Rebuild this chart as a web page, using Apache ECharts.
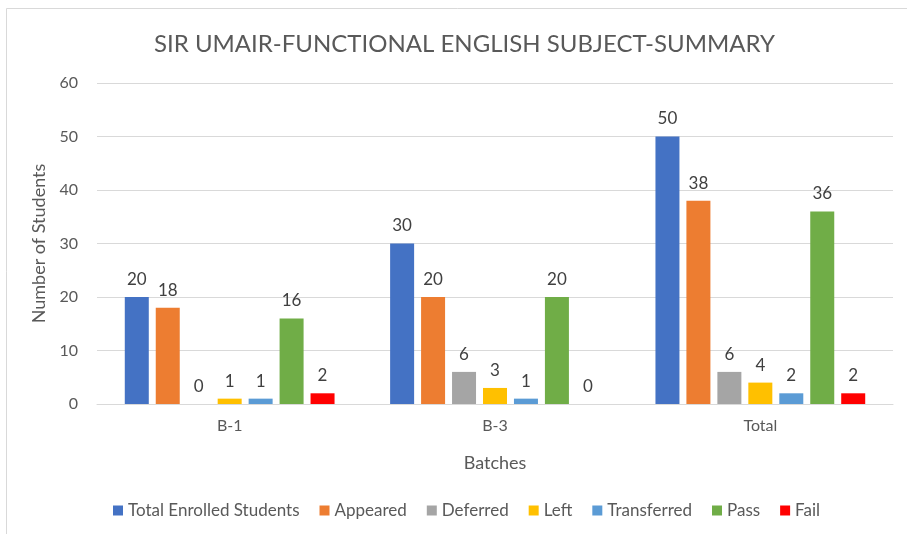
<!DOCTYPE html>
<html><head><meta charset="utf-8">
<script src="https://cdn.jsdelivr.net/npm/echarts@6/dist/echarts.min.js"></script>
<style>html,body{margin:0;padding:0;background:#fff}#c{width:907px;height:534px}</style>
</head><body><div id="c"></div>
<script>
const categories = ['B-1', 'B-3', 'Total'];
const seriesNames = ['Total Enrolled Students', 'Appeared', 'Deferred', 'Left', 'Transferred', 'Pass', 'Fail'];
const totalEnrolled = [20, 30, 50];
const appeared = [18, 20, 38];
const deferred = [0, 6, 6];
const left = [1, 3, 4];
const transferred = [1, 1, 2];
const pass = [16, 20, 36];
const fail = [2, 0, 2];
const colors = ['#4472C4', '#ED7D31', '#A5A5A5', '#FFC000', '#5B9BD5', '#70AD47', '#FF0000'];
const yTicks = { min: 0, max: 60, interval: 10 };

const values = [totalEnrolled, appeared, deferred, left, transferred, pass, fail];
const FONT = 'Lato';
const chart = echarts.init(document.getElementById('c'), null, { renderer: 'canvas' });
chart.setOption({
  animation: false,
  backgroundColor: '#fff',
  textStyle: { fontFamily: FONT },
  title: {
    text: 'SIR UMAIR-FUNCTIONAL ENGLISH SUBJECT-SUMMARY',
    left: 149, top: 27,
    textStyle: { fontFamily: FONT, fontSize: 24, fontWeight: 'normal', color: '#595959' }
  },
  graphic: [{
    type: 'rect', shape: { x: 6.5, y: 8.5, width: 920, height: 540 },
    style: { fill: 'none', stroke: '#D9D9D9', lineWidth: 1 }, silent: true
  }],
  legend: {
    bottom: 10, left: 108, itemWidth: 10, itemHeight: 10, itemGap: 20,
    icon: 'rect',
    textStyle: { fontFamily: FONT, fontSize: 17, color: '#595959' },
    data: seriesNames
  },
  grid: { left: 97, right: 14, top: 83, bottom: 130, containLabel: false },
  xAxis: {
    type: 'category', data: categories,
    name: 'Batches', nameLocation: 'middle', nameGap: 50,
    nameTextStyle: { fontFamily: FONT, fontSize: 18, color: '#595959' },
    axisLine: { lineStyle: { color: '#D9D9D9', width: 1 } },
    axisTick: { show: false },
    axisLabel: { fontFamily: FONT, fontSize: 16, color: '#595959', margin: 14 }
  },
  yAxis: {
    type: 'value', min: yTicks.min, max: yTicks.max, interval: yTicks.interval,
    name: 'Number of Students', nameLocation: 'middle', nameGap: 48,
    nameTextStyle: { fontFamily: FONT, fontSize: 18, color: '#595959' },
    axisLine: { show: false }, axisTick: { show: false },
    axisLabel: { fontFamily: FONT, fontSize: 16, color: '#595959', margin: 19 },
    splitLine: { lineStyle: { color: '#D9D9D9', width: 1 } }
  },
  series: seriesNames.map((n, i) => ({
    name: n, type: 'bar', data: values[i],
    barWidth: 24, barGap: '29%', barCategoryGap: '21%',
    itemStyle: { color: colors[i] },
    label: { show: true, position: 'top', distance: 9, fontFamily: FONT, fontSize: 17, color: '#404040' }
  }))
});
</script></body></html>
